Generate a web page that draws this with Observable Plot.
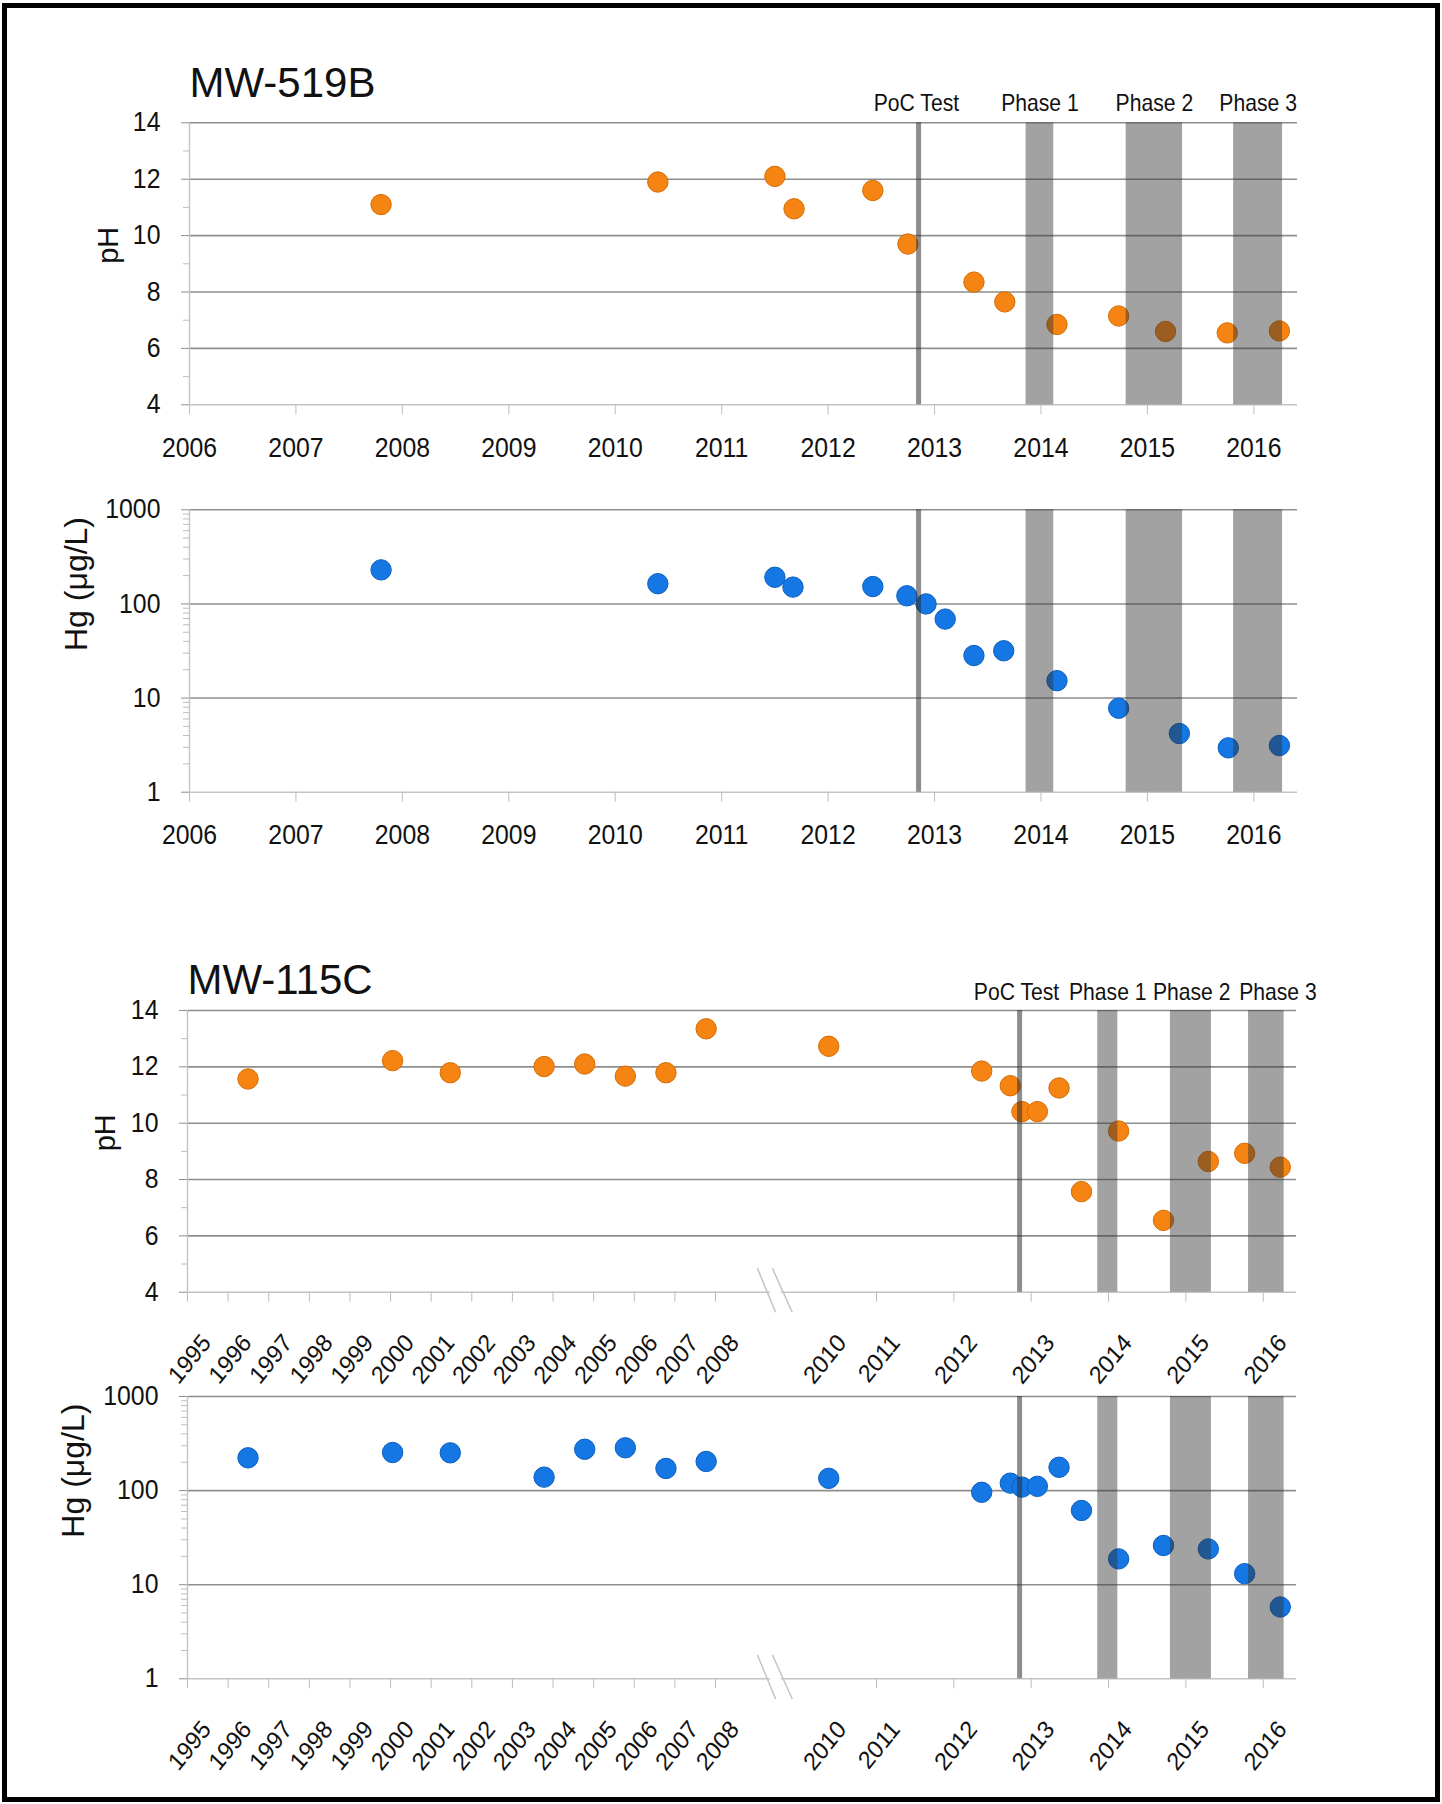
<!DOCTYPE html>
<html>
<head>
<meta charset="utf-8">
<script src="https://cdn.jsdelivr.net/npm/d3@7"></script>
<script src="https://cdn.jsdelivr.net/npm/@observablehq/plot@0.6"></script>
<style>
  html, body { margin: 0; padding: 0; background: #fff; }
  #page { position: relative; width: 1442px; height: 1804px; background: #fff; overflow: hidden; }
  .panel { position: absolute; left: 0; }
  #frame { position: absolute; left: 2px; top: 3px; width: 1438px; height: 1799px; border: 5px solid #000; box-sizing: border-box; pointer-events: none; }
</style>
</head>
<body>
<div id="page"></div>
<script>
// ---------------- DATA ----------------
// MW-519B
const mw519PhDates  = [2007.80, 2010.40, 2011.50, 2011.68, 2012.42, 2012.75, 2013.37, 2013.66, 2014.15, 2014.73, 2015.17, 2015.75, 2016.24];
const mw519PhValues = [11.1, 11.9, 12.1, 10.95, 11.6, 9.7, 8.35, 7.65, 6.85, 7.15, 6.6, 6.55, 6.62];
const mw519HgDates  = [2007.80, 2010.40, 2011.50, 2011.67, 2012.42, 2012.74, 2012.92, 2013.10, 2013.37, 2013.65, 2014.15, 2014.73, 2015.30, 2015.76, 2016.24];
const mw519HgValues = [230, 164, 192, 151, 153, 122, 100, 69, 28.3, 31.8, 15.3, 7.8, 4.2, 2.96, 3.13];

// MW-115C
const mw115Dates    = [1996.49, 2000.05, 2001.47, 2003.78, 2004.78, 2005.78, 2006.78, 2007.77, 2010.11, 2012.36, 2012.73, 2012.88, 2013.08, 2013.36, 2013.65, 2014.13, 2014.71, 2015.29, 2015.76, 2016.22];
const mw115PhValues = [11.57, 12.22, 11.79, 12.01, 12.1, 11.67, 11.79, 13.35, 12.73, 11.85, 11.33, 10.41, 10.41, 11.25, 7.57, 9.72, 6.55, 8.64, 8.93, 8.44];
const mw115HgValues = [223, 254, 252, 139, 275, 285, 172, 204, 135, 96, 120, 109, 111, 177, 61.5, 18.8, 26.1, 24, 13.1, 5.8];

// Treatment periods
const pocLabel    = "PoC Test";
const pocDate     = 2012.85;
const phaseNames  = ["Phase 1", "Phase 2", "Phase 3"];
const phaseStarts = [2013.86, 2014.80, 2015.81];
const phaseEnds   = [2014.12, 2015.33, 2016.27];

// Ticks
const yearTicks519      = [2006, 2007, 2008, 2009, 2010, 2011, 2012, 2013, 2014, 2015, 2016];
const yearTickMarks115  = [1995, 1996, 1997, 1998, 1999, 2000, 2001, 2002, 2003, 2004, 2005, 2006, 2007, 2008, 2011, 2012, 2013, 2014, 2015, 2016];
const yearLabels115     = [1995, 1996, 1997, 1998, 1999, 2000, 2001, 2002, 2003, 2004, 2005, 2006, 2007, 2008, 2010, 2011, 2012, 2013, 2014, 2015, 2016];
const phTicks      = [4, 6, 8, 10, 12, 14];
const phGrid       = [6, 8, 10, 12, 14];
const phMinorTicks = [5, 7, 9, 11, 13];
const hgTicks      = [1, 10, 100, 1000];
const hgGrid       = [10, 100, 1000];
const hgMinorTicks = [2, 3, 4, 5, 6, 7, 8, 9, 20, 30, 40, 50, 60, 70, 80, 90, 200, 300, 400, 500, 600, 700, 800, 900];

// ---------------- BUILD ----------------
const W = 1442;
const FONT = "'Liberation Sans', Arial, Helvetica, sans-serif";
const GRID = "#8e8e8e", AXIS = "#c4c4c4", TICK = "#bdbdbd";
const BAND = "#303030", BAND_OP = 0.45;
const ORANGE = "#f58413", ORANGE_EDGE = "#d46c05";
const BLUE = "#1577e3", BLUE_EDGE = "#0b5fc0";
const SQUEEZE = 0.92;

const zip = (xs, ys) => xs.map((x, i) => ({date: x, value: ys[i]}));
const phases = phaseNames.map((name, i) => ({name, start: phaseStarts[i], end: phaseEnds[i]}));
const periodLabels = [{name: pocLabel, at: pocDate}].concat(phases.map(p => ({name: p.name, at: (p.start + p.end) / 2})));

// Condense tick and period labels slightly (the source graphic uses a narrow face);
// large texts (titles, axis titles) keep their natural width.
function squeezeText(svg) {
  svg.querySelectorAll("text").forEach(t => {
    const fsEl = t.closest("[font-size]");
    const fs = fsEl ? parseFloat(fsEl.getAttribute("font-size")) : 27;
    if (fs >= 29) return;
    const tr = t.getAttribute("transform");
    if (tr && /^translate\(/.test(tr)) {
      t.setAttribute("transform", tr.replace(/^(translate\([^)]*\))/, `$1 scale(${SQUEEZE},1)`));
    } else {
      const x = +(t.getAttribute("x") || 0), y = +(t.getAttribute("y") || 0);
      t.setAttribute("transform", `${tr ? tr + " " : ""}translate(${x},${y}) scale(${SQUEEZE},1) translate(${-x},${-y})`);
    }
  });
}

function makePanel(c) {
  const [y0, y1] = c.yDomain;
  const marks = [
    Plot.ruleY(c.grid, {stroke: GRID, strokeWidth: 1.6}),
    Plot.ruleY([y0], {stroke: AXIS, strokeWidth: 1.4}),
    Plot.ruleX([c.xStart], {stroke: AXIS, strokeWidth: 1.4})
  ];
  if (c.breakY) {
    const [bt, bb] = c.breakY;
    marks.push(Plot.link([0], {x1: 2008.93, x2: 2009.27, y1: bt, y2: bb, stroke: "#fff", strokeWidth: 10}));
    marks.push(Plot.link([0, 1], {x1: i => 2008.78 + i * 0.28, x2: i => 2009.12 + i * 0.31, y1: bt, y2: bb, stroke: "#c4c4c4", strokeWidth: 1.5}));
  }
  marks.push(Plot.dot(c.data, {x: "date", y: "value", r: 10.2, fill: c.fill, stroke: c.edge, strokeWidth: 1}));
  marks.push(Plot.rect(phases, {x1: "start", x2: "end", y1: y0, y2: y1, fill: BAND, fillOpacity: BAND_OP}));
  marks.push(Plot.ruleX([pocDate], {y1: y0, y2: y1, stroke: BAND, strokeOpacity: 0.55, strokeWidth: 5}));
  marks.push(Plot.axisY({ticks: c.yTicks, tickSize: 8, tickPadding: 21, stroke: GRID, tickFormat: d => String(d), label: null}));
  marks.push(Plot.axisY({ticks: c.yMinor, tickSize: 6, stroke: TICK, tickFormat: () => "", label: null}));
  if (c.rotated) {
    marks.push(Plot.axisX({ticks: c.xTickMarks, tickSize: 10, stroke: TICK, tickFormat: () => "", label: null}));
    marks.push(Plot.text(c.xLabels, {x: d => d, text: d => String(d), frameAnchor: "bottom", textAnchor: "end", lineAnchor: "middle", rotate: -49, dx: 19, dy: 46, fontSize: 25}));
  } else {
    marks.push(Plot.axisX({ticks: c.xLabels, tickSize: 10, tickPadding: 23, stroke: TICK, tickFormat: d => String(d), label: null}));
  }
  if (c.title) {
    marks.push(Plot.text([c.title], {frameAnchor: "top-left", textAnchor: "start", lineAnchor: "bottom", dy: c.titleDy, fontSize: 42, text: d => d}));
  }
  if (c.labelDy !== undefined) {
    marks.push(Plot.text(periodLabels, {x: (d, i) => d.at + c.labelShift[i], text: "name", frameAnchor: "top", lineAnchor: "middle", dy: c.labelDy, fontSize: 23}));
  }
  marks.push(Plot.text([c.ylabel], {frameAnchor: "left", lineAnchor: "middle", rotate: -90, dx: c.ylabelDx, fontSize: c.ylabelSize, text: d => d}));

  const svg = Plot.plot({
    width: W,
    height: c.height,
    marginTop: c.marginTop,
    marginBottom: c.marginBottom,
    marginLeft: c.marginLeft,
    marginRight: c.marginRight,
    x: Object.assign({label: null}, c.x),
    y: Object.assign({label: null}, c.y),
    style: {fontFamily: FONT, fontSize: "27px", background: "transparent", overflow: "visible", color: "#111"},
    marks
  });
  squeezeText(svg);
  svg.classList.add("panel");
  svg.style.top = c.top + "px";
  svg.style.position = "absolute";
  svg.style.left = "0px";
  document.getElementById("page").appendChild(svg);
}

const xTop = {domain: [2006, 2016.41]};
const xBottom = {type: "linear", domain: [1995, 2008, 2011, 2016.43], range: [187, 715, 876, 1296]};

makePanel({
  top: 50, height: 430, marginTop: 72.3, marginBottom: 75.7, marginLeft: 189, marginRight: 145,
  x: xTop, xStart: 2006, xLabels: yearTicks519,
  y: {domain: [4, 14]}, yDomain: [4, 14], grid: phGrid, yTicks: phTicks, yMinor: phMinorTicks,
  data: zip(mw519PhDates, mw519PhValues), fill: ORANGE, edge: ORANGE_EDGE,
  title: "MW-519B", titleDy: -26, labelDy: -19, labelShift: [-0.02, 0, 0, 0],
  ylabel: "pH", ylabelDx: -81, ylabelSize: 29
});
makePanel({
  top: 480, height: 380, marginTop: 29.3, marginBottom: 68.3, marginLeft: 189, marginRight: 145,
  x: xTop, xStart: 2006, xLabels: yearTicks519,
  y: {type: "log", domain: [1, 1000]}, yDomain: [1, 1000], grid: hgGrid, yTicks: hgTicks, yMinor: hgMinorTicks,
  data: zip(mw519HgDates, mw519HgValues), fill: BLUE, edge: BLUE_EDGE,
  ylabel: "Hg (μg/L)", ylabelDx: -113, ylabelSize: 32
});
makePanel({
  top: 930, height: 460, marginTop: 80, marginBottom: 98.3, marginLeft: 187, marginRight: 146,
  x: xBottom, xStart: 1995, rotated: true, xTickMarks: yearTickMarks115, xLabels: yearLabels115,
  y: {domain: [4, 14]}, yDomain: [4, 14], grid: phGrid, yTicks: phTicks, yMinor: phMinorTicks,
  data: zip(mw115Dates, mw115PhValues), fill: ORANGE, edge: ORANGE_EDGE,
  breakY: [4.85, 3.29],
  title: "MW-115C", titleDy: -17, labelDy: -18.3, labelShift: [-0.04, 0, 0.01, 0.15],
  ylabel: "pH", ylabelDx: -81.4, ylabelSize: 29
});
makePanel({
  top: 1390, height: 410, marginTop: 6, marginBottom: 121.7, marginLeft: 187, marginRight: 146,
  x: xBottom, xStart: 1995, rotated: true, xTickMarks: yearTickMarks115, xLabels: yearLabels115,
  y: {type: "log", domain: [1, 1000]}, yDomain: [1, 1000], grid: hgGrid, yTicks: hgTicks, yMinor: hgMinorTicks,
  data: zip(mw115Dates, mw115HgValues), fill: BLUE, edge: BLUE_EDGE,
  breakY: [1.8, 0.61],
  ylabel: "Hg (μg/L)", ylabelDx: -113.5, ylabelSize: 32
});

const frame = document.createElement("div");
frame.id = "frame";
document.getElementById("page").appendChild(frame);
</script>
</body>
</html>
